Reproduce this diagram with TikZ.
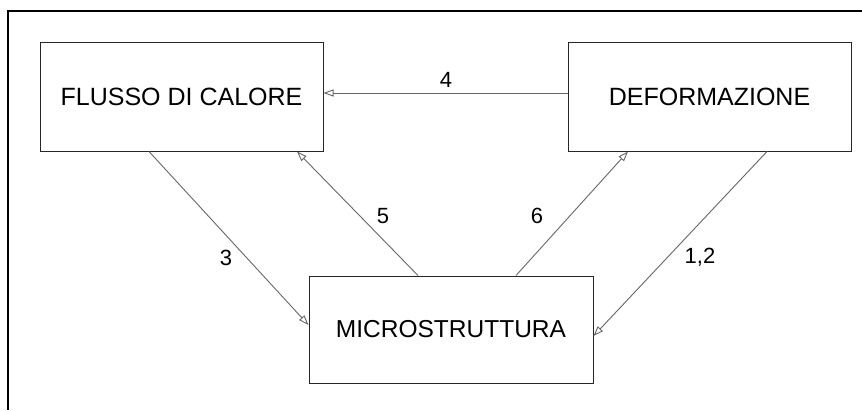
\documentclass[tikz,border=0pt]{standalone}
\usepackage{fontspec}
\setmainfont{Liberation Sans}
\usetikzlibrary{arrows.meta}
\begin{document}
\begin{tikzpicture}[x=1pt,y=-1pt,
  box/.style={draw=black!85,line width=1pt,inner sep=0pt,minimum width=283pt,minimum height=109pt,font=\fontsize{25}{30}\selectfont},
  conn/.style={draw=black!60,line width=0.9pt,-{Triangle[open,length=10pt,width=7pt]}},
  lbl/.style={font=\fontsize{22}{26}\selectfont,inner sep=0pt}]
\useasboundingbox (0,0) rectangle (862,410);
\draw[line width=2pt] (8,410) -- (8,11) -- (862,11);
\node[box] (flusso) at (181.5,96.5) {FLUSSO DI CALORE};
\node[box] (deform) at (709.5,96.5) {DEFORMAZIONE};
\node[box,minimum width=284pt,minimum height=107pt,font=\fontsize{24.5}{29}\selectfont] (micro) at (451,329.5) {MICROSTRUTTURA};
\draw[conn] ([yshift=3.5pt]deform.west) -- ([yshift=3.5pt]flusso.east);
\draw[conn] ([xshift=-32.5pt]flusso.south) -- ([yshift=4.5pt]micro.west);
\draw[conn] ([xshift=-33pt]micro.north) -- ([xshift=115.5pt]flusso.south);
\draw[conn] ([xshift=65pt]micro.north) -- ([xshift=-81.5pt]deform.south);
\draw[conn] ([xshift=57.5pt]deform.south) -- ([yshift=-6.5pt]micro.east);
\node[lbl] (l4) at (446,80) {4};
\node[lbl] (l3) at (226,258) {3};
\node[lbl] (l5) at (383,216) {5};
\node[lbl] (l6) at (537,216) {6};
\node[lbl,anchor=base] (l12) at (700,263) {1,2};
\end{tikzpicture}
\end{document}
